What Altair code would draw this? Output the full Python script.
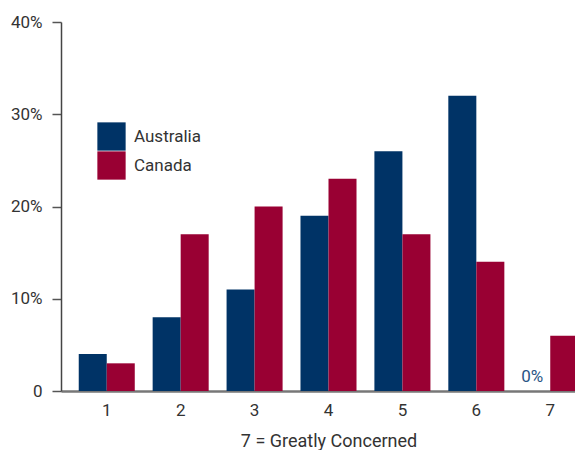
import altair as alt
import pandas as pd

categories = ["1", "2", "3", "4", "5", "6", "7"]
australia = [4, 8, 11, 19, 26, 32, 0]
canada = [3, 17, 20, 23, 17, 14, 6]
series = ["Australia", "Canada"]
colors = ["#003366", "#990033"]
y_ticks = [0, 10, 20, 30, 40]

rows = []
for c, a, k in zip(categories, australia, canada):
    rows.append({"cat": c, "country": "Australia", "value": a})
    rows.append({"cat": c, "country": "Canada", "value": k})
df = pd.DataFrame(rows)
df["label"] = df["value"].map(lambda v: "0%" if v == 0 else "")

FONT = "Roboto, sans-serif"

x_enc = alt.X("cat:N", sort=categories,
              scale=alt.Scale(range=[0, 535], paddingInner=0.242, paddingOuter=0.24),
              axis=alt.Axis(title="7 = Greatly Concerned", labelAngle=0, ticks=False,
                            labelPadding=11, labelFontSize=17, labelColor="#333333",
                            titleFontSize=18, titleFontWeight="normal", titleColor="#333333",
                            titleBaseline="alphabetic", titlePadding=28,
                            domainColor="#777777", domainWidth=2.5,
                            labelFont=FONT, titleFont=FONT))
xoff = alt.XOffset("country:N", sort=series, scale=alt.Scale(paddingInner=0, paddingOuter=0))
y_enc = alt.Y("value:Q", scale=alt.Scale(domain=[0, 40], nice=False),
              axis=alt.Axis(title=None, values=y_ticks, grid=False, tickSize=9,
                            labelPadding=10, tickColor="#555555", domainColor="#444444",
                            domainWidth=1.5, tickWidth=1.5,
                            labelExpr="datum.value == 0 ? '0' : datum.value + '%'",
                            labelFontSize=17, labelColor="#333333", labelFont=FONT))

bars = alt.Chart(df).mark_bar(clip=False).encode(
    x=x_enc,
    xOffset=xoff,
    y=y_enc,
    color=alt.Color("country:N", sort=series,
                    scale=alt.Scale(domain=series, range=colors),
                    legend=alt.Legend(title=None, orient="none", legendX=36, legendY=100,
                                      symbolType="square", symbolSize=800,
                                      symbolStrokeWidth=0, rowPadding=0,
                                      labelFontSize=17, labelColor="#333333",
                                      labelOffset=8, labelFont=FONT, padding=0)),
)

text = alt.Chart(df).mark_text(baseline="alphabetic", dy=-9, dx=-4, fontSize=17,
                               color="#2a5585", font=FONT).encode(
    x=alt.X("cat:N", sort=categories),
    xOffset=alt.XOffset("country:N", sort=series),
    y=alt.Y("value:Q"),
    text="label:N",
)

chart = alt.layer(bars, text).properties(
    width=514, height=369,
    autosize=alt.AutoSizeParams(type="none"),
    padding={"left": 53, "top": 14, "right": 0, "bottom": 59},
).configure_view(stroke=None)

chart.save("out.html", embed_options={"renderer": "svg", "actions": False})
